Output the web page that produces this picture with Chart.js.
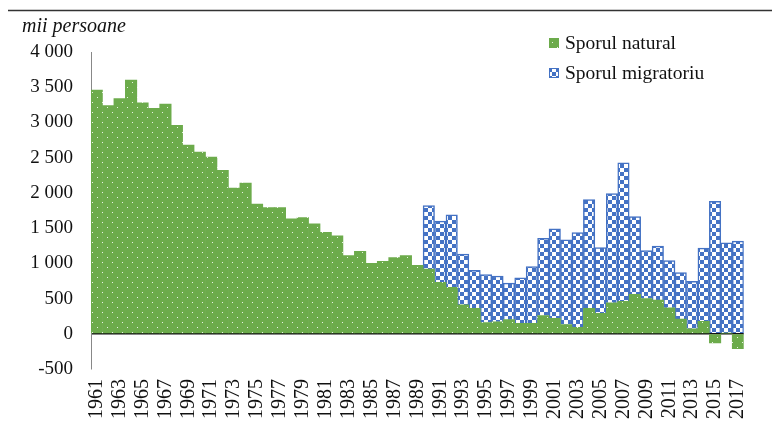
<!DOCTYPE html>
<html>
<head>
<meta charset="utf-8">
<script src="https://cdn.jsdelivr.net/npm/chart.js@4"></script>
<style>
  html, body { margin: 0; padding: 0; background: #fff; }
  #wrap { width: 772px; height: 423px; position: relative; }
</style>
</head>
<body>
<div id="wrap"><canvas id="chart" width="772" height="423"></canvas></div>
<script>
// ani 1961 - 2017
const years = [];
for (let y = 1961; y <= 2017; y++) years.push(String(y));

// sporul natural, mii persoane
const natural = [
  3460, 3240, 3340, 3600, 3280, 3200, 3260, 2960, 2680, 2580,
  2510, 2320, 2070, 2140, 1840, 1790, 1790, 1630, 1650, 1560,
  1440, 1390, 1110, 1170, 1000, 1030, 1080, 1110, 970, 920,
  730, 660, 410, 360, 160, 170, 200, 150, 150, 260,
  220, 130, 90, 360, 290, 440, 460, 560, 500, 480,
  370, 210, 70, 175, -130, 10, -210
];

// sporul migratoriu, mii persoane (incepe in 1990)
const migration = [
  null, null, null, null, null, null, null, null, null, null,
  null, null, null, null, null, null, null, null, null, null,
  null, null, null, null, null, null, null, null, null, 900,
  870, 1030, 720, 540, 680, 650, 520, 645, 805, 1095,
  1270, 1205, 1345, 1545, 935, 1550, 1965, 1105, 680, 765,
  670, 660, 675, 1040, 1880, 1280, 1315
];

const yTicks = { min: -500, max: 4000, step: 500 };
const unitLabel = 'mii persoane';

const GREEN = '#6cab4b';
const BLUE = '#4472c4';

function dotPattern() {
  const c = document.createElement('canvas');
  c.width = 10; c.height = 10;
  const g = c.getContext('2d');
  g.fillStyle = GREEN;
  g.fillRect(0, 0, 10, 10);
  g.fillStyle = 'rgba(255,255,255,0.85)';
  g.fillRect(2, 2, 1, 1);
  g.fillRect(7, 7, 1, 1);
  return g.createPattern(c, 'repeat');
}

function checkPattern() {
  const c = document.createElement('canvas');
  c.width = 8; c.height = 8;
  const g = c.getContext('2d');
  g.fillStyle = '#ffffff';
  g.fillRect(0, 0, 8, 8);
  g.fillStyle = BLUE;
  g.fillRect(0, 0, 4, 4);
  g.fillRect(4, 4, 4, 4);
  return g.createPattern(c, 'repeat');
}

const greenFill = dotPattern();
const blueFill = checkPattern();

function fmt(v) {
  const s = String(Math.abs(v)).replace(/\B(?=(\d{3})+(?!\d))/g, ' ');
  return (v < 0 ? '-' : '') + s;
}

// linia de sus, titlul axei si legenda
const extras = {
  id: 'extras',
  afterDraw(chart) {
    const ctx = chart.ctx;
    ctx.save();
    ctx.strokeStyle = '#333';
    ctx.lineWidth = 1.5;
    ctx.beginPath();
    ctx.moveTo(8, 10.5);
    ctx.lineTo(772, 10.5);
    ctx.stroke();

    ctx.fillStyle = '#111';
    ctx.font = 'italic 20px "Liberation Serif"';
    ctx.textBaseline = 'alphabetic';
    ctx.fillText(unitLabel, 22, 32);

    ctx.font = '19.5px "Liberation Serif"';
    ctx.textBaseline = 'middle';
    chart.data.datasets.forEach((ds, i) => {
      const y = 43 + i * 30;
      ctx.fillStyle = ds.backgroundColor;
      ctx.fillRect(549, y - 5, 10, 10);
      if (ds.borderWidth) {
        ctx.strokeStyle = ds.borderColor;
        ctx.lineWidth = 1;
        ctx.strokeRect(549.5, y - 4.5, 9, 9);
      }
      ctx.fillStyle = '#111';
      ctx.fillText(ds.label, 565, y + 1);
    });
    ctx.restore();
  }
};

new Chart(document.getElementById('chart'), {
  type: 'bar',
  data: {
    labels: years,
    datasets: [
      {
        label: 'Sporul natural',
        data: natural,
        backgroundColor: greenFill,
        borderWidth: 0,
        barPercentage: 1,
        categoryPercentage: 1
      },
      {
        label: 'Sporul migratoriu',
        data: migration,
        backgroundColor: blueFill,
        borderColor: BLUE,
        borderWidth: 1.5,
        barPercentage: 1,
        categoryPercentage: 1
      }
    ]
  },
  options: {
    responsive: false,
    animation: false,
    layout: { padding: { top: 52, right: 2, left: 0, bottom: 0 } },
    plugins: {
      legend: { display: false },
      tooltip: { enabled: false }
    },
    scales: {
      x: {
        stacked: true,
        grid: { display: false, drawTicks: false },
        border: { display: false },
        ticks: {
          autoSkip: false,
          minRotation: 90,
          maxRotation: 90,
          padding: 10,
          color: '#111',
          font: { family: 'Liberation Serif', size: 20 },
          callback(val, i) { return i % 2 === 0 ? this.getLabelForValue(val) : ''; }
        },
        afterFit(scale) { scale.height = 54; }
      },
      y: {
        stacked: true,
        min: yTicks.min,
        max: yTicks.max,
        z: 1,
        border: { display: true, color: '#888', width: 1 },
        grid: {
          drawTicks: false,
          color: (c) => c.tick && c.tick.value === 0 ? '#111' : 'rgba(0,0,0,0)',
          lineWidth: 1.5
        },
        ticks: {
          stepSize: yTicks.step,
          padding: 18,
          color: '#111',
          font: { family: 'Liberation Serif', size: 19 },
          callback: (v) => fmt(v)
        },
        afterFit(scale) { scale.width = 91; }
      }
    }
  },
  plugins: [extras]
});
</script>
</body>
</html>
